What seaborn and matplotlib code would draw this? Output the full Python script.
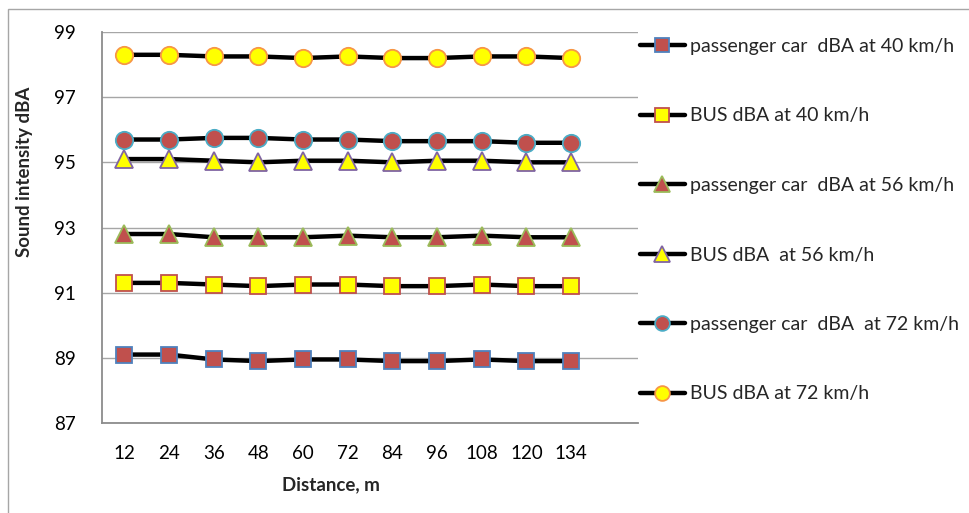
import matplotlib
matplotlib.use("Agg")
import matplotlib.pyplot as plt
import seaborn as sns
import numpy as np
from matplotlib.lines import Line2D
from matplotlib.patches import Rectangle

distances = ["12", "24", "36", "48", "60", "72", "84", "96", "108", "120", "134"]
pc_40 = [89.1, 89.1, 88.95, 88.9, 88.95, 88.95, 88.9, 88.9, 88.95, 88.9, 88.9]
bus_40 = [91.3, 91.3, 91.25, 91.2, 91.25, 91.25, 91.2, 91.2, 91.25, 91.2, 91.2]
pc_56 = [92.8, 92.8, 92.7, 92.7, 92.7, 92.75, 92.7, 92.7, 92.75, 92.7, 92.7]
bus_56 = [95.1, 95.1, 95.05, 95.0, 95.05, 95.05, 95.0, 95.05, 95.05, 95.0, 95.0]
pc_72 = [95.7, 95.7, 95.75, 95.75, 95.7, 95.7, 95.65, 95.65, 95.65, 95.6, 95.6]
bus_72 = [98.3, 98.3, 98.25, 98.25, 98.2, 98.25, 98.2, 98.2, 98.25, 98.25, 98.2]
labels = ["passenger car  dBA at 40 km/h", "BUS dBA at 40 km/h",
          "passenger car  dBA at 56 km/h", "BUS dBA  at 56 km/h",
          "passenger car  dBA  at 72 km/h", "BUS dBA at 72 km/h"]
y_ticks = [87, 89, 91, 93, 95, 97, 99]

sns.set_theme(style="white")
plt.rcParams['font.family'] = ['Lato', 'DejaVu Sans']

W, H = 970, 513
fig = plt.figure(figsize=(W / 100, H / 100), dpi=100)
ax = fig.add_axes([102 / W, 1 - 423 / H, (638 - 102) / W, (423 - 32) / H])

# outer chart border
fig.patches.append(Rectangle((8 / W, -0.1), 1.2, 1 - 9 / H + 0.1, transform=fig.transFigure,
                             fill=False, edgecolor="#a6a6a6", linewidth=1.0, clip_on=False))

styles = [
    dict(marker="s", markersize=12, markerfacecolor="#C0504D", markeredgecolor="#4F81BD"),
    dict(marker="s", markersize=12, markerfacecolor="#FFFF00", markeredgecolor="#C0504D"),
    dict(marker="^", markersize=13, markerfacecolor="#C0504D", markeredgecolor="#9BBB59"),
    dict(marker="^", markersize=13, markerfacecolor="#FFFF00", markeredgecolor="#8064A2"),
    dict(marker="o", markersize=12.5, markerfacecolor="#C0504D", markeredgecolor="#4BACC6"),
    dict(marker="o", markersize=12.5, markerfacecolor="#FFFF00", markeredgecolor="#F79646"),
]
series = [pc_40, bus_40, pc_56, bus_56, pc_72, bus_72]
xpos = np.arange(len(distances))

handles = []
for vals, st, lab in zip(series, styles, labels):
    sns.lineplot(x=xpos, y=vals, ax=ax, color="black", linewidth=3.2,
                 markeredgewidth=1.3, errorbar=None, legend=False, **st)
    handles.append(Line2D([], [], color="black", linewidth=3.2, markeredgewidth=1.3,
                          label=lab, **{**st, "markersize": st["markersize"] * 0.85}))

ax.set_xlim(-0.5, len(distances) + 0.5)
ax.set_ylim(87, 99)
ax.set_yticks(y_ticks)
ax.set_xticks(xpos)
ax.set_xticklabels(distances)
ax.set_xticks(np.arange(-0.5, len(distances) + 1, 1.0), minor=True)
ax.tick_params(axis="x", which="major", length=0, pad=16, labelsize=13.5, colors="black")
ax.tick_params(axis="x", which="minor", length=6, width=1.2, color="#8c8c8c", direction="out")
ax.tick_params(axis="y", which="major", length=6, width=1.2, color="#8c8c8c", direction="out",
               pad=13, labelsize=13.5, labelcolor="black")
ax.yaxis.grid(True, color="#a6a6a6", linewidth=1.0)
ax.xaxis.grid(False)
for s in ["top", "right"]:
    ax.spines[s].set_visible(False)
for s in ["left", "bottom"]:
    ax.spines[s].set_color("#8c8c8c")
    ax.spines[s].set_linewidth(1.3)
ax.set_xlabel("")
ax.set_ylabel("")

fig.text(331 / W, 1 - 485 / H, "Distance, m", ha="center", va="center",
         fontsize=13.5, fontweight="bold")
fig.text(25 / W, 1 - 172 / H, "Sound intensity dBA", ha="center", va="center",
         rotation=90, fontsize=13.5, fontweight="bold")

fig.legend(handles=handles, loc="upper left", bbox_to_anchor=(640 / W, 1 - 38 / H),
           frameon=False, fontsize=14, handlelength=2.3, handletextpad=0.25,
           labelspacing=2.7, borderaxespad=0, borderpad=0)

fig.savefig("out.png", dpi=100)
